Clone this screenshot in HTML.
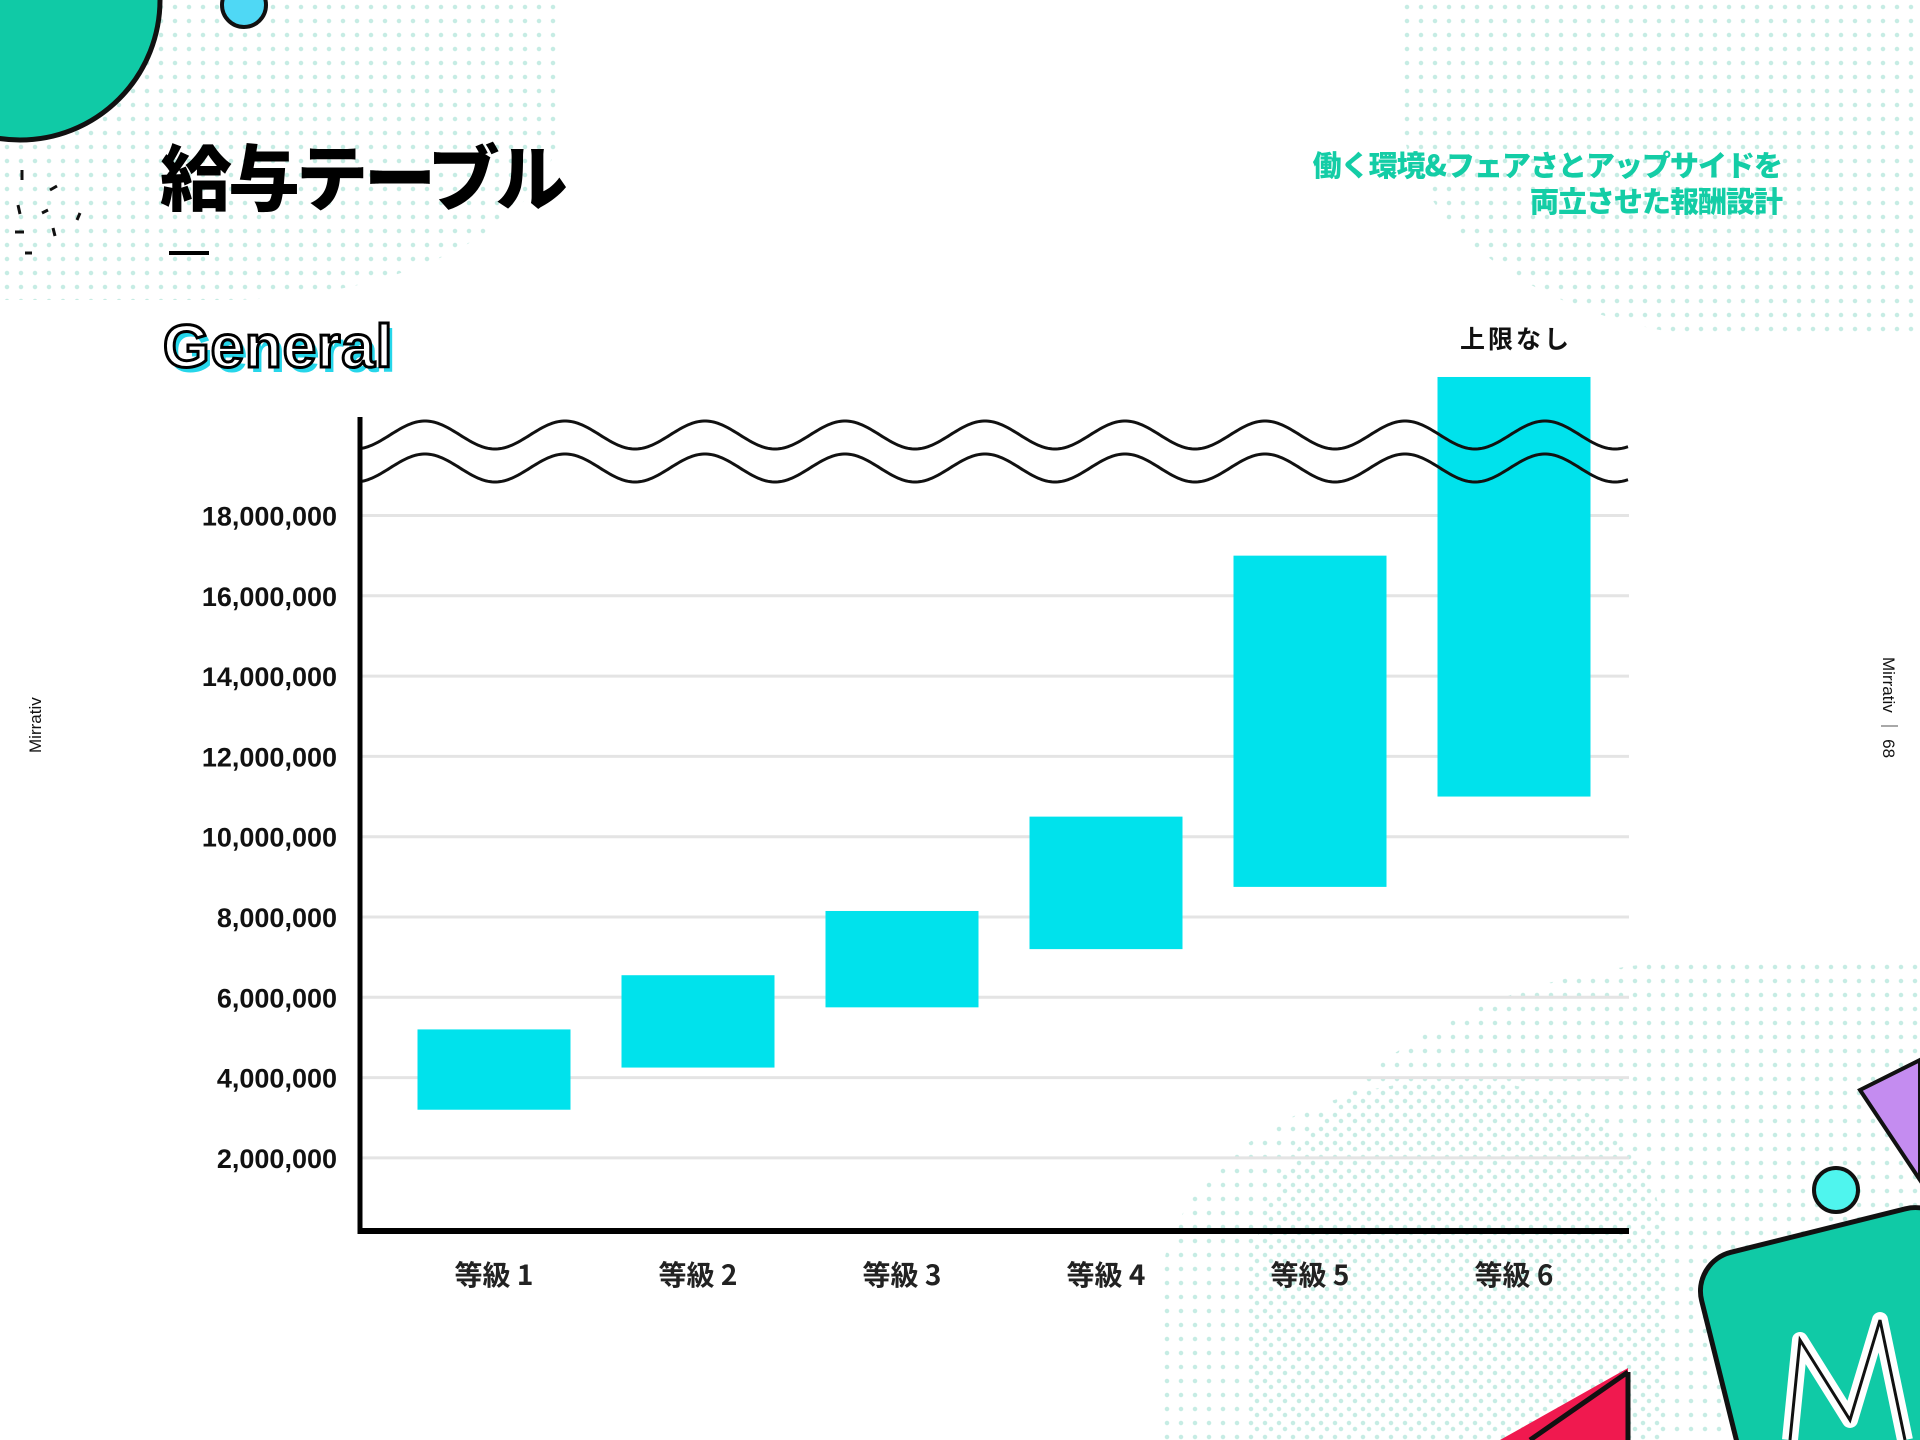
<!DOCTYPE html>
<html><head><meta charset="utf-8">
<style>
html,body{margin:0;padding:0;background:#fff;overflow:hidden;width:1920px;height:1440px;}
body{position:relative;font-family:"Liberation Sans","Noto Sans CJK JP",sans-serif;}
.abs{position:absolute;}
.dots{position:absolute;background-image:radial-gradient(circle,#c6ece4 2px,transparent 2.5px);background-size:14px 14px;}
</style></head>
<body>
<div class="dots" style="left:0;top:0;width:560px;height:300px;border-radius:0 0 60% 0;"></div>
<div class="dots" style="left:1400px;top:0;width:520px;height:340px;border-radius:0 0 0 70%;"></div>
<div class="dots" style="left:1250px;top:960px;width:670px;height:480px;border-radius:70% 0 0 0;"></div>
<div class="dots" style="left:1160px;top:1080px;width:500px;height:360px;border-radius:60% 40% 0 0;"></div>

<svg class="abs" style="left:0;top:0" width="1920" height="1440">
  <circle cx="20" cy="0" r="140" fill="#10caa6" stroke="#111" stroke-width="5"/>
  <circle cx="244" cy="5" r="22" fill="#4fd8f5" stroke="#111" stroke-width="4"/>
  <g stroke="#111" stroke-width="3">
    <line x1="22" y1="170" x2="22" y2="180"/><line x1="50" y1="190" x2="57" y2="186"/><line x1="18" y1="205" x2="20" y2="214"/>
    <line x1="42" y1="213" x2="48" y2="210"/><line x1="80" y1="213" x2="77" y2="220"/><line x1="15" y1="232" x2="24" y2="232"/>
    <line x1="53" y1="228" x2="55" y2="236"/><line x1="25" y1="253" x2="32" y2="253"/>
  </g>
  <polygon points="1860,1090 1920,1060 1920,1180" fill="#c48cf0" stroke="#111" stroke-width="4"/>
  <circle cx="1836" cy="1190" r="22" fill="#4ff5ee" stroke="#111" stroke-width="4"/>
  <rect x="1692" y="1262" width="260" height="260" rx="40" fill="#10caa6" stroke="#111" stroke-width="5" transform="rotate(-14 1692 1262)"/>
  <polyline points="1790,1440 1800,1340 1850,1420 1880,1320 1905,1440" fill="none" stroke="#fff" stroke-width="16" stroke-linejoin="round"/>
  <polyline points="1790,1440 1800,1340 1850,1420 1880,1320 1905,1440" fill="none" stroke="#111" stroke-width="3"/>
  <polygon points="1500,1440 1628,1368 1628,1440" fill="#f0194f"/>
  <line x1="1530" y1="1440" x2="1628" y2="1372" stroke="#111" stroke-width="5"/>
  <line x1="1628" y1="1372" x2="1628" y2="1440" stroke="#111" stroke-width="5"/>
</svg>

<div class="abs" style="left:160px;top:134px;font-size:72px;font-weight:900;color:#000;letter-spacing:-4px;font-family:'Noto Sans CJK JP',sans-serif;line-height:1.1;white-space:nowrap;">給与テーブル</div>
<div class="abs" style="left:169px;top:251px;width:40px;height:4px;background:#000;"></div>
<div class="abs" style="right:138px;top:146px;text-align:right;font-size:29px;font-weight:900;color:#14cda6;line-height:36px;font-family:'Noto Sans CJK JP',sans-serif;letter-spacing:-1px;">働く環境&amp;フェアさとアップサイドを<br>両立させた報酬設計</div>
<div class="abs" style="left:163px;top:312px;font-size:60px;font-weight:900;color:#fff;-webkit-text-stroke:3px #000;text-shadow:4px 5px 0 #26d6ea;font-family:'Liberation Sans',sans-serif;letter-spacing:1px;">General</div>
<div class="abs" style="left:26px;top:753px;transform:rotate(-90deg);transform-origin:0 0;font-size:17px;color:#111;white-space:nowrap;">Mirrativ</div>
<div class="abs" style="left:1903px;top:657px;transform:rotate(90deg);transform-origin:0 0;font-size:17px;color:#111;white-space:nowrap;">Mirrativ ｜ 68</div>

<svg id="chart" class="abs" style="left:0;top:0" width="1920" height="1440"></svg>

<script>
const categories = ["等級 1","等級 2","等級 3","等級 4","等級 5","等級 6"];
const minValues = [3.2, 4.25, 5.75, 7.2, 8.75, 11.0];
const maxValues = [5.2, 6.55, 8.15, 10.5, 17.0, 21.45];
const yTicks = [2,4,6,8,10,12,14,16,18];
const yTickLabels = ["2,000,000","4,000,000","6,000,000","8,000,000","10,000,000","12,000,000","14,000,000","16,000,000","18,000,000"];
const capLabel = "上限なし";

const NS = "http://www.w3.org/2000/svg";
const svg = document.getElementById("chart");
const X0 = 360, X1 = 1629, AXIS_Y = 1231, TOP_Y = 417;
const yScale = v => 515.5 + (18 - v) * 40.15;
const band = 204, barW = 153, firstCenter = 494;
const xCenter = i => firstCenter + i * band;
function mk(tag, attrs){const e=document.createElementNS(NS,tag);for(const k in attrs)e.setAttribute(k,attrs[k]);svg.appendChild(e);return e;}

yTicks.forEach((t,i)=>{
  const g = mk("line",{x1:X0,x2:X1,y1:yScale(t),y2:yScale(t),stroke:"#e4e4e4","stroke-width":3});
  
  
  const tx = mk("text",{x:337,y:yScale(t)+10,"text-anchor":"end","font-size":27,"font-weight":"bold",fill:"#111","font-family":"Liberation Sans, sans-serif"});
  tx.textContent = yTickLabels[i];
  
  
});

categories.forEach((c,i)=>{
  const yT = yScale(maxValues[i]), yB = yScale(minValues[i]);
  const r = mk("rect",{x:xCenter(i)-barW/2,y:yT,width:barW,height:yB-yT,fill:"#00e2ec"});
  
  
  const t = mk("text",{x:xCenter(i),y:1285,"text-anchor":"middle","font-size":28,"font-weight":"bold",fill:"#222","font-family":"Noto Sans CJK JP, sans-serif"});
  t.textContent = c;
  
  
});

const last = categories.length-1;
const cap = mk("text",{x:xCenter(last)+2,y:348,"text-anchor":"middle","font-size":25,"font-weight":"bold",fill:"#111","font-family":"Noto Sans CJK JP, sans-serif","letter-spacing":"3"});
cap.textContent = capLabel;



function wave(y0){
  let d = "M"+X0+","+y0;
  const period = 140, amp = 14;
  for(let x=X0;x<=X1;x+=2){ d += " L"+x+","+(y0 + amp*Math.cos((x-425)/period*2*Math.PI)*-1).toFixed(1); }
  return d;
}
[435,468].forEach(y0=>{
  const p = mk("path",{d:wave(y0),fill:"none",stroke:"#111","stroke-width":3});
  
  
});

const ya = mk("line",{x1:X0,x2:X0,y1:TOP_Y,y2:AXIS_Y+3,stroke:"#000","stroke-width":5});


const xa = mk("line",{x1:X0-2,x2:X1,y1:AXIS_Y,y2:AXIS_Y,stroke:"#000","stroke-width":6});


</script>
</body></html>
